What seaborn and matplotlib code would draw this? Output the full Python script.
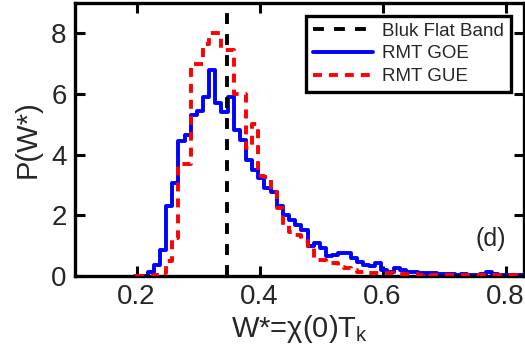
import numpy as np
import seaborn as sns
import matplotlib
matplotlib.use('Agg')
import matplotlib.pyplot as plt

# histogram bins (width 0.01)
bin_start = 0.198
bin_width = 0.01

# RMT GOE histogram heights
goe = [0.0, 0.0, 0.12, 0.35, 0.85, 2.3, 3.05, 4.45, 4.65, 5.3,
       5.45, 5.9, 6.8, 5.7, 5.4, 5.9, 4.8, 4.48, 3.82, 3.49,
       3.22, 2.89, 2.78, 2.29, 2.01, 1.85, 1.68, 1.52, 0.97, 1.08,
       0.91, 0.64, 0.69, 0.75, 0.75, 0.58, 0.47, 0.36, 0.31, 0.42,
       0.2, 0.14, 0.27, 0.2, 0.14, 0.14, 0.1, 0.08, 0.08, 0.06,
       0.05, 0.05, 0.04, 0.05, 0.04, 0.04, 0.06, 0.12, 0.05, 0.04,
       0.04, 0.03, 0.03, 0.03]

# RMT GUE histogram heights
gue = [0.0, 0.0, 0.0, 0.03, 0.09, 0.5, 1.25, 3.7, 3.7, 7.0,
       7.0, 7.65, 8.0, 8.0, 7.45, 7.45, 6.0, 6.0, 4.2, 5.0,
       3.3, 3.27, 2.78, 2.23, 1.68, 1.45, 1.35, 1.15, 0.91, 0.53,
       0.53, 0.42, 0.42, 0.3, 0.25, 0.18, 0.14, 0.12, 0.1, 0.1,
       0.08, 0.08, 0.06, 0.06, 0.05, 0.05, 0.04, 0.05, 0.04, 0.04,
       0.03, 0.04, 0.03, 0.03, 0.03, 0.04, 0.03, 0.03, 0.03, 0.02,
       0.02, 0.02, 0.02, 0.02]

flat_band = 0.347  # bulk flat band value
xticks = [0.2, 0.4, 0.6, 0.8]
yticks = [0, 2, 4, 6, 8]

sns.set_style("ticks")
plt.rcParams['font.family'] = ['Liberation Sans', 'DejaVu Sans']

edges = bin_start + bin_width * np.arange(len(goe) + 1)
goe_y = goe + [goe[-1]]
gue_y = gue + [gue[-1]]

fig = plt.figure(figsize=(5.25, 3.62), dpi=100)
ax = fig.add_axes([0.143, 0.238, 0.855, 0.754])

lw = 2.8
ax.axvline(flat_band, color='black', lw=lw, linestyle=(0, (2.8, 2.6)),
           label='Bluk Flat Band', zorder=4)
sns.lineplot(x=edges, y=goe_y, ax=ax, color='#0000ff', lw=lw,
             drawstyle='steps-post', estimator=None, label='RMT GOE', zorder=2)
sns.lineplot(x=edges, y=gue_y, ax=ax, color='#ff0000', lw=lw,
             linestyle=(0, (2.3, 1.8)), drawstyle='steps-post',
             estimator=None, label='RMT GUE', zorder=3)

ax.set_xlim(0.1, 0.83)
ax.set_ylim(0, 9)
ax.set_xticks(xticks)
ax.set_xticklabels([str(t) for t in xticks])
ax.set_yticks(yticks)
ax.tick_params(direction='in', length=7, width=2.2, labelsize=20, pad=6,
               top=True, right=True, color='black')
for s in ax.spines.values():
    s.set_linewidth(2.4)
    s.set_color('black')

ax.set_xlabel(r'W*=$\mathregular{\chi}$(0)T$_\mathregular{k}$', fontsize=21, labelpad=2)
ax.set_ylabel('P(W*)', fontsize=21, labelpad=7)
ax.text(0.776, 1.2, '(d)', fontsize=18, ha='center', va='center')

leg = ax.legend(loc='upper right', fontsize=13.5, frameon=True, fancybox=False,
                framealpha=1, edgecolor='black', handlelength=3.2,
                labelspacing=0.3, borderaxespad=0.7, borderpad=0.35,
                handletextpad=0.5)
leg.get_frame().set_linewidth(2.4)

fig.savefig('out.png', dpi=100)
